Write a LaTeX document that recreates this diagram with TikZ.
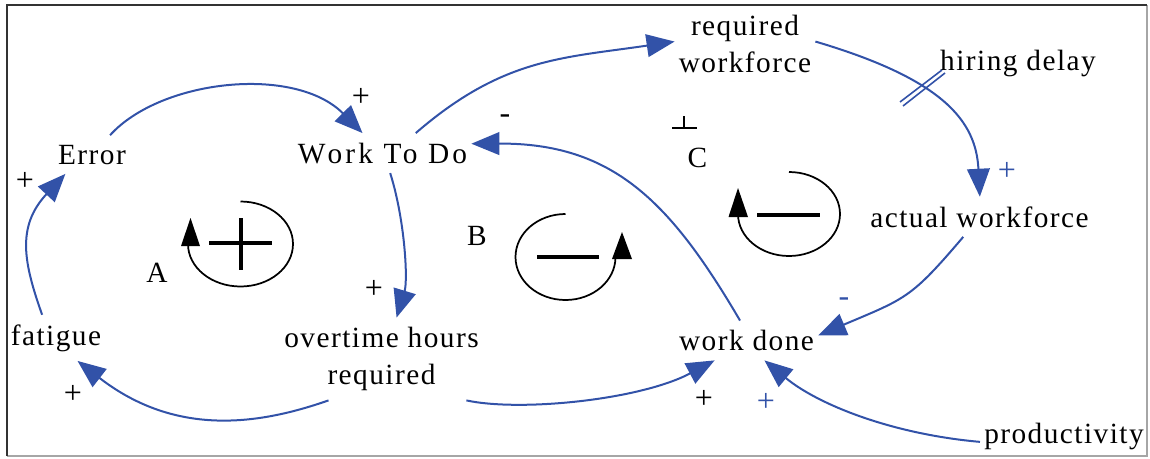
\documentclass[tikz,border=0pt]{standalone}
\usepackage{fontspec}
\setmainfont{Liberation Serif}[LetterSpace=5]
\usetikzlibrary{arrows.meta}
\definecolor{cldblue}{RGB}{50,82,168}
\begin{document}
\begin{tikzpicture}[x=0.75pt,y=-0.75pt,
  lbl/.style={font=\fontsize{22}{27.75}\selectfont, inner xsep=3pt, inner ysep=7pt, anchor=base},
  mlbl/.style={font=\fontsize{22}{27.75}\selectfont, inner xsep=3pt, inner ysep=7pt, align=center},
  link/.style={draw=cldblue, line width=1.5pt, -{Triangle[length=21pt,width=17pt]}, fill=none},
  pol/.style={font=\fontsize{24}{28}\selectfont, inner sep=0pt},
  loopc/.style={draw=black, line width=1.3pt},
  loopsign/.style={draw=black, line width=3pt},
  lettr/.style={font=\fontsize{22}{26}\selectfont, anchor=base, inner sep=0pt}]
\useasboundingbox (0,0) rectangle (1150,458);
% frame
\draw[draw=black!35, line width=1pt] (1147,5) -- (1147,456) -- (7,456);
\draw[draw=black!80, line width=1.5pt] (7,456) -- (7,5) -- (1147,5);

% variables
\node[lbl] (err) at (92,164) {Error};
\node[lbl] (wtd) at (382.5,163) {\addfontfeature{LetterSpace=11}W\kern1.5pt ork To Do};
\node[mlbl] (rw) at (745,44) {required\\workforce};
\node[lbl] (hd) at (1018,70) {hiring delay};
\node[lbl] (aw) at (979.5,227) {actual workforce};
\node[lbl] (wd) at (746.5,350.5) {work done};
\node[mlbl] (ohr) at (381.5,359) {overtime hours\\required};
\node[lbl] (fat) at (56,345) {fatigue};
\node[lbl] (prod) at (1064,443) {productivity};

% links
\draw[link] (err.47) .. controls (161,79) and (295,65) .. (wtd.135.7);
\draw[link] (wtd.291.5) .. controls (405,220) and (408,280) .. (ohr.70.2);
\draw[link] (ohr.218.2) .. controls (261,424) and (177,438) .. (fat.313);
\draw[link] (fat.121.9) .. controls (24,263.5) and (16,226.8) .. (err.216.8);
\draw[link] (ohr.334.7) .. controls (520,412) and (640,400) .. (wd.212.6);
\draw[link] (wd.108.4) .. controls (670,201) and (612.5,143) .. (wtd.6.4);
\draw[link] (wtd.31.9) .. controls (502.7,57.8) and (562.3,58.1) .. (rw.178.1);
\draw[link] (rw.2.7) .. controls (944,79.5) and (976,121.3) .. (aw.89);
\draw[link] (aw.231.2) .. controls (910.9,298.4) and (906.3,298.2) .. (wd.4.7);
\draw[link] (prod.184.7) .. controls (892.6,434.2) and (818.4,404.9) .. (wd.312.2);

% delay mark
\draw[draw=cldblue, line width=1.2pt] (900,102) -- (942,70);
\draw[draw=cldblue, line width=1.2pt] (903,106) -- (945,73);

% polarities
\node[pol] (p1) at (361,97) {+};
\node[pol] (p2) at (25,181) {+};
\node[pol] (p3) at (73,394) {+};
\node[pol] (p4) at (374,289) {+};
\node[pol] (p5) at (505,119) {-};
\node[pol, text=cldblue] (p6) at (1007,171) {+};
\node[pol, text=cldblue] (p7) at (844,302) {-};
\node[pol] (p8) at (704,399) {+};
\node[pol, text=cldblue] (p9) at (766,402) {+};
\draw[line width=1.2pt] (672,128) -- (697,128);
\draw[line width=1.2pt] (684,116) -- (684,128);

% loop labels
\node[lettr] (la) at (157,282) {A};
\node[lettr] (lb) at (477,245) {B};
\node[lettr] (lc) at (697.5,167) {C};

% loop A (reinforcing)
\draw[loopc] (240.5,201.5) arc[start angle=-90, end angle=180, x radius=52.5, y radius=42.5];
\fill (181,246) -- (200,246) -- (190.5,218) -- cycle;
\draw[loopsign] (209,243) -- (272,243);
\draw[loopsign] (240.5,218) -- (240.5,270);

% loop B (balancing)
\draw[loopc] (565.5,214) arc[start angle=-90, end angle=-360, x radius=50, y radius=43];
\fill (612,259) -- (632,259) -- (622,232) -- cycle;
\draw[loopsign] (537,257) -- (599,257);

% loop C (balancing)
\draw[loopc] (789,172) arc[start angle=-90, end angle=180, x radius=51, y radius=42];
\fill (728.5,217) -- (748,217) -- (738,188) -- cycle;
\draw[loopsign] (757,215) -- (820,215);
\end{tikzpicture}
\end{document}
